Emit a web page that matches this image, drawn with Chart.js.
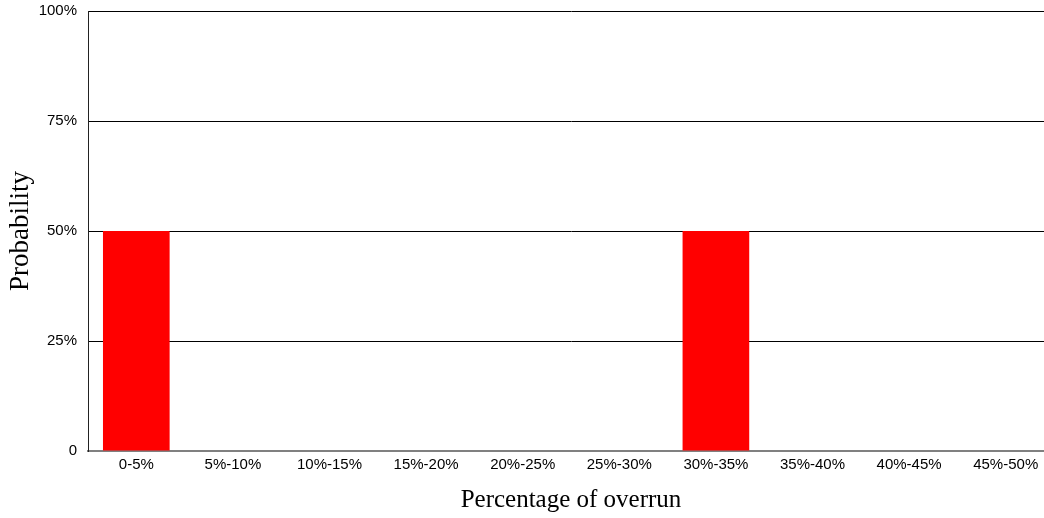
<!DOCTYPE html>
<html>
<head>
<meta charset="utf-8">
<script src="https://cdn.jsdelivr.net/npm/chart.js@4"></script>
<style>
  html, body { margin: 0; padding: 0; background: #fff; overflow: hidden; }
  #wrap { width: 1054px; height: 518px; }
</style>
</head>
<body>
<div id="wrap"><canvas id="chart" width="1054" height="518"></canvas></div>
<script>
const categories = ["0-5%", "5%-10%", "10%-15%", "15%-20%", "20%-25%", "25%-30%", "30%-35%", "35%-40%", "40%-45%", "45%-50%"];
const probability = [50, 0, 0, 0, 0, 0, 50, 0, 0, 0];
const yTicks = [0, 25, 50, 75, 100];
const yTickLabels = ["0", "25%", "50%", "75%", "100%"];

const ctx = document.getElementById("chart").getContext("2d");

new Chart(ctx, {
  type: "bar",
  data: {
    labels: categories,
    datasets: [{
      data: probability,
      backgroundColor: "#ff0000",
      borderWidth: 0,
      categoryPercentage: 1,
      barPercentage: 0.69
    }]
  },
  options: {
    responsive: false,
    animation: false,
    layout: { padding: { top: 11, left: 0, right: 0, bottom: 0 } },
    plugins: {
      legend: { display: false },
      tooltip: { enabled: false }
    },
    scales: {
      x: {
        grid: { display: false, drawTicks: false },
        border: { display: true, color: "#808080", width: 2 },
        ticks: {
          color: "#000",
          font: { family: "Liberation Sans, Arial", size: 15 },
          maxRotation: 0,
          autoSkip: false,
          padding: 5
        },
        title: {
          display: true,
          text: "Percentage of overrun",
          color: "#000",
          font: { family: "Liberation Serif, Times New Roman", size: 25 },
          padding: { top: 0, bottom: 3 }
        },
        afterFit: (scale) => { scale.height = 67; }
      },
      y: {
        min: 0,
        max: 100,
        afterBuildTicks: (scale) => { scale.ticks = yTicks.map(v => ({ value: v })); },
        grid: { color: "#000", lineWidth: 1, drawTicks: false },
        border: { display: true, color: "#222", width: 1 },
        ticks: {
          color: "#000",
          font: { family: "Liberation Sans, Arial", size: 15 },
          padding: 11,
          callback: (v) => yTickLabels[yTicks.indexOf(v)]
        },
        title: {
          display: true,
          text: "Probability",
          color: "#000",
          font: { family: "Liberation Serif, Times New Roman", size: 27 },
          padding: { top: 5, bottom: 0 }
        },
        afterFit: (scale) => {
          scale.width = 88;
          scale.paddingTop = 0;
          scale.paddingBottom = 0;
        }
      }
    }
  }
});
</script>
</body>
</html>
